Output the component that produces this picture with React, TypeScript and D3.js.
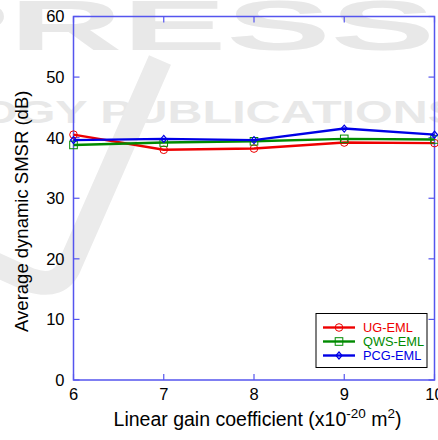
import React, { useRef, useEffect } from "react";
import * as d3 from "d3";

// chart data
const gainCoeff = [6, 7, 8, 9, 10];
const ugEml = [40.5, 38.0, 38.2, 39.2, 39.1];
const qwsEml = [38.8, 39.2, 39.4, 39.8, 39.7];
const pcgEml = [39.6, 39.8, 39.6, 41.5, 40.5];
const yTicks = [0, 10, 20, 30, 40, 50, 60];
const xTicks = [6, 7, 8, 9, 10];

const series = [
  { name: "UG-EML", values: ugEml, color: "#ee0000", marker: "circle" },
  { name: "QWS-EML", values: qwsEml, color: "#008a00", marker: "square" },
  { name: "PCG-EML", values: pcgEml, color: "#0000e6", marker: "diamond" },
];

const App = () => {
  const ref = useRef<SVGSVGElement>(null);

  useEffect(() => {
    drawChart();
  }, []);

  const drawChart = () => {
    const svg = d3.select(ref.current);
    svg.selectAll("*").remove();

    const margin = { top: 16.5, right: 3.5, bottom: 60, left: 73.5 };
    const width = 438 - margin.left - margin.right;
    const height = 440 - margin.top - margin.bottom;

    // watermark in the background
    const wm = svg.append("g").attr("fill", "#e8e8e8");
    wm.append("text")
      .attr("x", -95)
      .attr("y", 50)
      .attr("font-family", "Arial, Liberation Sans, sans-serif")
      .attr("font-weight", "bold")
      .attr("font-size", 70)
      .attr("textLength", 530)
      .attr("lengthAdjust", "spacingAndGlyphs")
      .text("PRESS");
    wm.append("text")
      .attr("x", -20)
      .attr("y", 123)
      .attr("font-family", "Arial, Liberation Sans, sans-serif")
      .attr("font-weight", "bold")
      .attr("font-size", 32)
      .attr("textLength", 480)
      .attr("lengthAdjust", "spacingAndGlyphs")
      .text("OGY PUBLICATIONS");
    svg.append("path")
      .attr("d", "M160,60 L70,265 Q60,290 30,280 L-10,262")
      .attr("fill", "none")
      .attr("stroke", "#ebebeb")
      .attr("stroke-width", 24);

    const g = svg
      .append("g")
      .attr("transform", `translate(${margin.left},${margin.top})`);

    const x = d3.scaleLinear().domain([6, 10]).range([0, width]);
    const y = d3.scaleLinear().domain([0, 60]).range([height, 0]);

    const axisColor = "#5555ee";
    const font = "Arial, Liberation Sans, sans-serif";

    // frame
    g.append("rect")
      .attr("width", width)
      .attr("height", height)
      .attr("fill", "none")
      .attr("stroke", axisColor)
      .attr("stroke-width", 1.5);

    // ticks (inner, on all sides)
    yTicks.forEach((t) => {
      g.append("line")
        .attr("x1", 0).attr("x2", 6)
        .attr("y1", y(t)).attr("y2", y(t))
        .attr("stroke", axisColor).attr("stroke-width", 1.2);
      g.append("line")
        .attr("x1", width).attr("x2", width - 6)
        .attr("y1", y(t)).attr("y2", y(t))
        .attr("stroke", axisColor).attr("stroke-width", 1.2);
      g.append("text")
        .attr("x", -9)
        .attr("y", y(t))
        .attr("dy", "0.36em")
        .attr("text-anchor", "end")
        .attr("font-family", font)
        .attr("font-size", 16.5)
        .text(t);
    });

    xTicks.forEach((t) => {
      g.append("line")
        .attr("x1", x(t)).attr("x2", x(t))
        .attr("y1", height).attr("y2", height - 6)
        .attr("stroke", axisColor).attr("stroke-width", 1.2);
      g.append("line")
        .attr("x1", x(t)).attr("x2", x(t))
        .attr("y1", 0).attr("y2", 6)
        .attr("stroke", axisColor).attr("stroke-width", 1.2);
      g.append("text")
        .attr("x", x(t))
        .attr("y", height + 20)
        .attr("text-anchor", "middle")
        .attr("font-family", font)
        .attr("font-size", 16.5)
        .text(t);
    });

    // axis labels
    const xl = g.append("text")
      .attr("x", 184)
      .attr("y", height + 46)
      .attr("text-anchor", "middle")
      .attr("font-family", font)
      .attr("font-size", 19.5);
    xl.append("tspan").text("Linear gain coefficient (x10");
    xl.append("tspan").attr("dy", -8).attr("font-size", 13.5).text("-20");
    xl.append("tspan").attr("dy", 8).text(" m");
    xl.append("tspan").attr("dy", -8).attr("font-size", 13.5).text("2");
    xl.append("tspan").attr("dy", 8).text(")");

    g.append("text")
      .attr("transform", `translate(${-46},${height / 2 + 13}) rotate(-90)`)
      .attr("text-anchor", "middle")
      .attr("font-family", font)
      .attr("font-size", 18.5)
      .text("Average dynamic SMSR (dB)");

    const drawMarker = (sel: any, kind: string, color: string, cx: number, cy: number) => {
      if (kind === "circle") {
        sel.append("circle")
          .attr("cx", cx).attr("cy", cy).attr("r", 3.8)
          .attr("fill", "none").attr("stroke", color).attr("stroke-width", 1);
      } else if (kind === "square") {
        sel.append("rect")
          .attr("x", cx - 3.8).attr("y", cy - 3.8)
          .attr("width", 7.6).attr("height", 7.6)
          .attr("fill", "none").attr("stroke", color).attr("stroke-width", 1);
      } else {
        sel.append("path")
          .attr("d", `M${cx},${cy - 3.5}L${cx + 3},${cy}L${cx},${cy + 3.5}L${cx - 3},${cy}Z`)
          .attr("fill", "none").attr("stroke", color).attr("stroke-width", 1.2);
      }
    };

    const line = d3
      .line<number>()
      .x((_, i) => x(gainCoeff[i]))
      .y((d) => y(d));

    series.forEach((s) => {
      g.append("path")
        .datum(s.values)
        .attr("d", line)
        .attr("fill", "none")
        .attr("stroke", s.color)
        .attr("stroke-width", 2.4);
      s.values.forEach((v, i) => drawMarker(g, s.marker, s.color, x(gainCoeff[i]), y(v)));
    });

    // legend
    const lg = svg.append("g").attr("transform", "translate(316,313.5)");
    lg.append("rect")
      .attr("width", 111)
      .attr("height", 54)
      .attr("fill", "white")
      .attr("stroke", "black")
      .attr("stroke-width", 1);
    series.forEach((s, i) => {
      const ly = 14 + i * 14;
      lg.append("line")
        .attr("x1", 7).attr("x2", 39)
        .attr("y1", ly).attr("y2", ly)
        .attr("stroke", s.color).attr("stroke-width", 2.4);
      drawMarker(lg, s.marker, s.color, 23, ly);
      lg.append("text")
        .attr("x", 47)
        .attr("y", ly)
        .attr("dy", "0.36em")
        .attr("font-family", font)
        .attr("font-size", 12.8)
        .attr("fill", s.color)
        .text(s.name);
    });
  };

  return (
    <svg
      ref={ref}
      width={438}
      height={440}
      style={{ position: "absolute", left: 0, top: 0, background: "white" }}
    ></svg>
  );
};

export default App;
